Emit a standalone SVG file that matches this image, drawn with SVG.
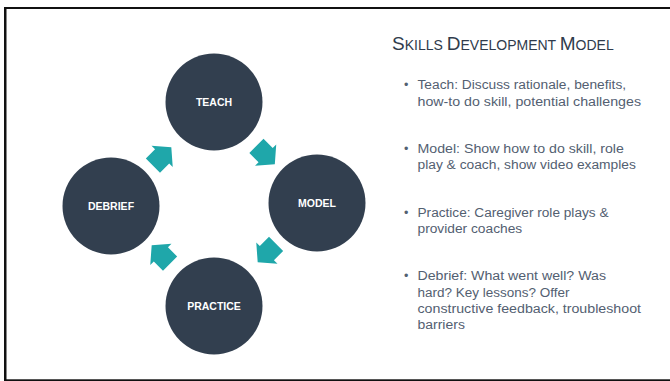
<svg xmlns="http://www.w3.org/2000/svg" width="670" height="381" viewBox="0 0 670 381">
<defs>
<style>
.node{fill:#323F4F}
.lbl{font-family:"Liberation Sans",Arial,sans-serif;font-weight:bold;font-size:10.5px;fill:#ffffff;text-anchor:middle}
.arr{fill:#1FA7AA}
.body{font-family:"Liberation Sans",Arial,sans-serif;font-size:12.5px;fill:#536071}
.title{font-family:"Liberation Sans",Arial,sans-serif;fill:#2F3B4C}
</style>
<path id="blk" d="M-10,-10 L3,-10 L3,-15 L16,0 L3,15 L3,10 L-10,10 Z"/>
</defs>
<rect width="670" height="381" fill="#ffffff"/>
<g id="frame" fill="#111111">
<rect x="4" y="7" width="2.5" height="374"/>
<rect x="4" y="7" width="666" height="2"/>
<rect x="4" y="379.3" width="666" height="1.7"/>
</g>
<g id="teach"><circle class="node" cx="214" cy="102" r="48.5"/><text class="lbl" x="214" y="105.8">TEACH</text></g>
<g id="model"><circle class="node" cx="317" cy="203" r="48.5"/><text class="lbl" x="317" y="206.8">MODEL</text></g>
<g id="practice"><circle class="node" cx="214" cy="306" r="48.5"/><text class="lbl" x="214" y="309.5">PRACTICE</text></g>
<g id="debrief"><circle class="node" cx="111" cy="206" r="48.5"/><text class="lbl" x="111" y="209.8">DEBRIEF</text></g>
<g id="connectors" class="arr">
<use href="#blk" transform="translate(160,158.5) rotate(-45)"/>
<use href="#blk" transform="translate(263.5,153) rotate(45)"/>
<use href="#blk" transform="translate(269,251) rotate(135)"/>
<use href="#blk" transform="translate(163,256.5) rotate(-135)"/>
</g>
<g id="title"><text class="title" x="392" y="50"><tspan font-size="19">S</tspan><tspan font-size="14">KILLS </tspan><tspan font-size="19">D</tspan><tspan font-size="14">EVELOPMENT </tspan><tspan font-size="19">M</tspan><tspan font-size="14">ODEL</tspan></text></g>
<g id="bullets" class="body">
<text x="404" y="89">•</text>
<text x="417.5" y="89" textLength="208.6" lengthAdjust="spacingAndGlyphs">Teach: Discuss rationale, benefits,</text>
<text x="417.5" y="106" textLength="223.5" lengthAdjust="spacingAndGlyphs">how-to do skill, potential challenges</text>
<text x="404" y="152.5">•</text>
<text x="417.5" y="152.5" textLength="206.4" lengthAdjust="spacingAndGlyphs">Model: Show how to do skill, role</text>
<text x="417.5" y="169" textLength="218.4" lengthAdjust="spacingAndGlyphs">play &amp; coach, show video examples</text>
<text x="404" y="216.5">•</text>
<text x="417.5" y="216.5" textLength="191" lengthAdjust="spacingAndGlyphs">Practice: Caregiver role plays &amp;</text>
<text x="417.5" y="233" textLength="104.7" lengthAdjust="spacingAndGlyphs">provider coaches</text>
<text x="404" y="280">•</text>
<text x="417.5" y="280" textLength="188.5" lengthAdjust="spacingAndGlyphs">Debrief: What went well? Was</text>
<text x="417.5" y="296.5" textLength="152" lengthAdjust="spacingAndGlyphs">hard? Key lessons? Offer</text>
<text x="417.5" y="313" textLength="223.5" lengthAdjust="spacingAndGlyphs">constructive feedback, troubleshoot</text>
<text x="417.5" y="329" textLength="47.4" lengthAdjust="spacingAndGlyphs">barriers</text>
</g>
</svg>
